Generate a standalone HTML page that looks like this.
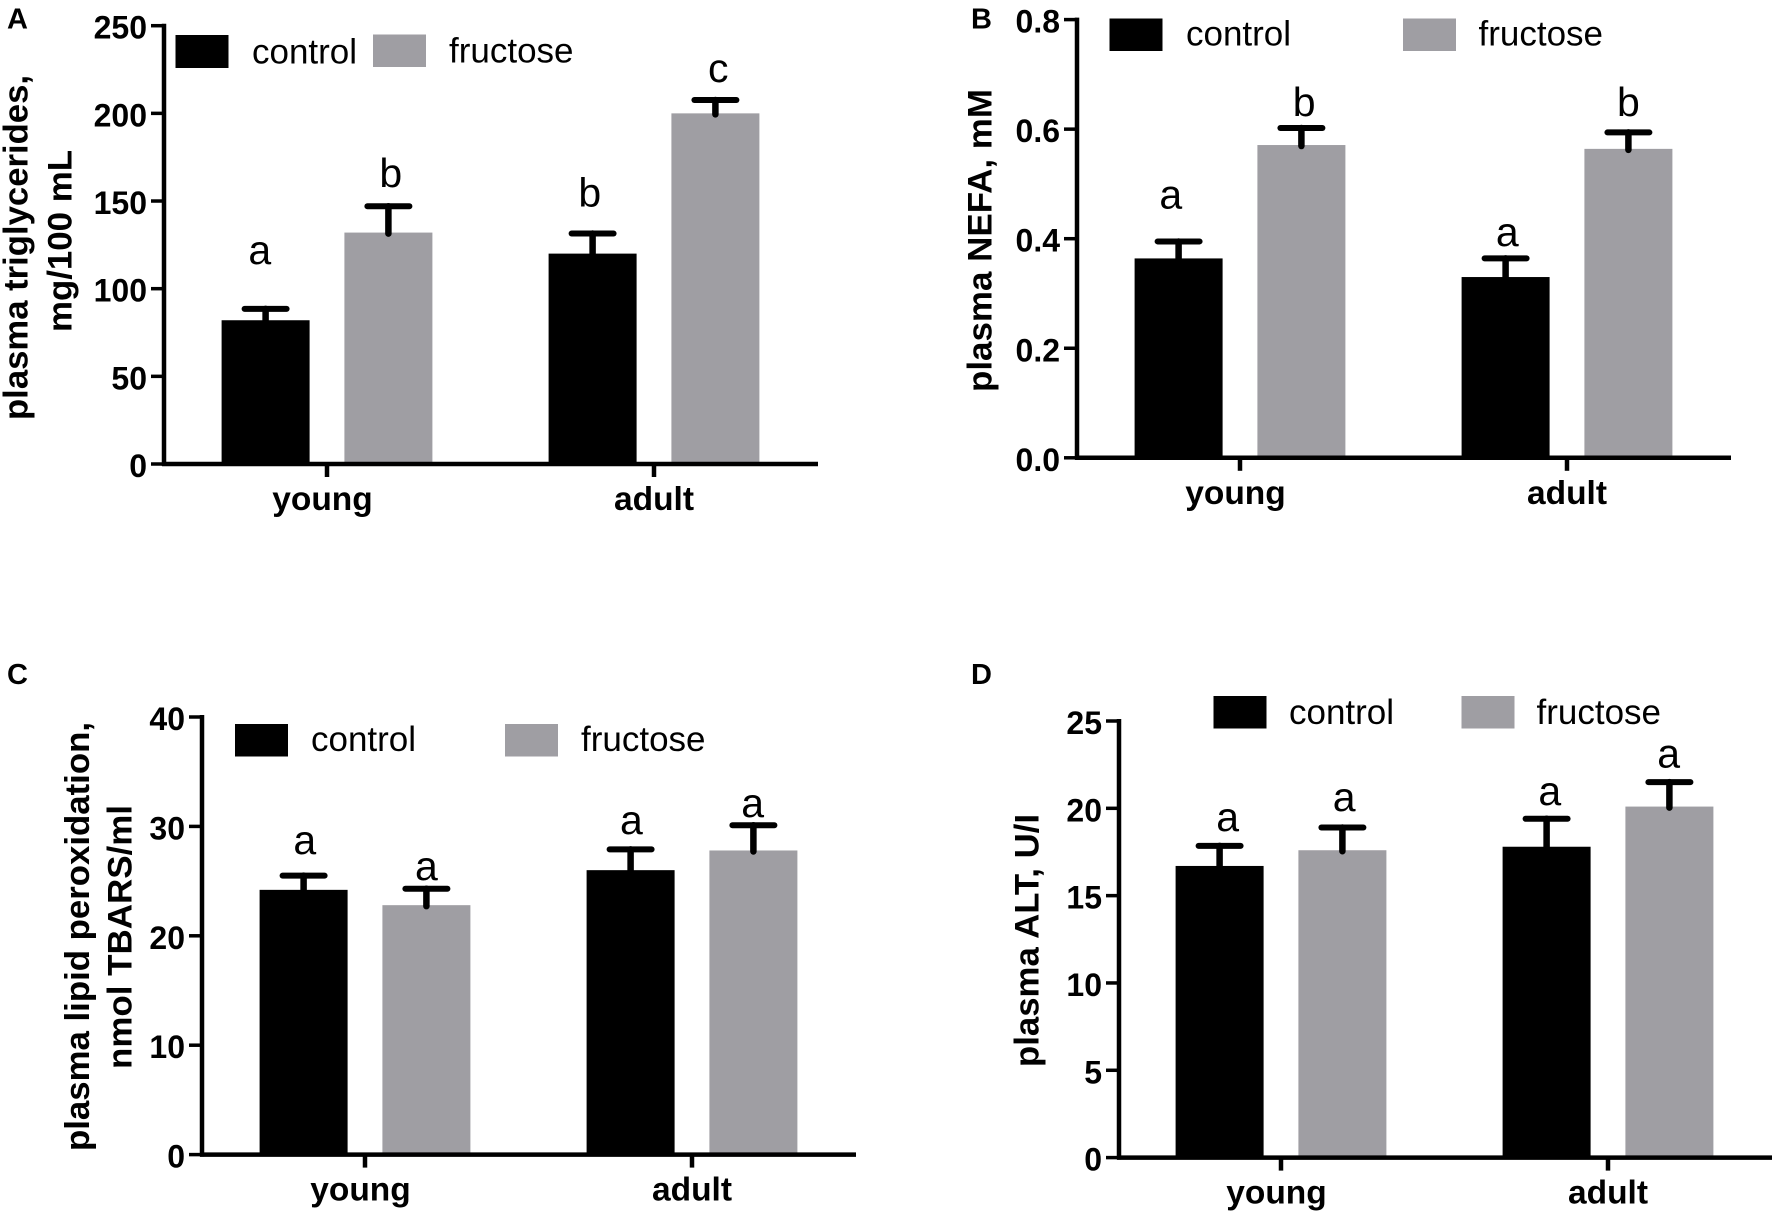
<!DOCTYPE html>
<html lang="en">
<head>
<meta charset="utf-8">
<title>Plasma markers in young and adult rats</title>
<style>
html,body{margin:0;padding:0;background:#fff;}
#figure{display:block;width:1772px;height:1216px;font-family:"Liberation Sans",Arial,sans-serif;}
.panel-letter{font-size:29px;font-weight:bold;fill:#000;}
.y-title{font-size:34.7px;font-weight:bold;fill:#000;}
.legend-label{font-size:35px;fill:#000;}
.tick-label{font-size:32px;font-weight:bold;fill:#000;text-anchor:end;}
.category-label{font-size:33.5px;font-weight:bold;fill:#000;text-anchor:middle;}
.sig-letter{font-size:41px;fill:#000;text-anchor:middle;}
</style>
</head>
<body>
<svg id="figure" xmlns="http://www.w3.org/2000/svg" width="1772" height="1216" viewBox="0 0 1772 1216">
  <rect x="0" y="0" width="1772" height="1216" fill="#fff"/>

  <!-- Panel A static labels -->
  <g id="panel-a">
    <text class="panel-letter" x="7" y="28.3">A</text>
    <text class="y-title" transform="translate(27.5,420) rotate(-90)" textLength="345" lengthAdjust="spacingAndGlyphs">plasma triglycerides,</text>
    <text class="y-title" transform="translate(71.5,332) rotate(-90)" textLength="182" lengthAdjust="spacingAndGlyphs">mg/100 mL</text>
    <rect x="175.5" y="35" width="53" height="33" fill="#000"/>
    <text class="legend-label" x="252" y="63.3">control</text>
    <rect x="373" y="34.5" width="53" height="32.5" fill="#9f9ea3"/>
    <text class="legend-label" x="449" y="62.5">fructose</text>
  </g>

  <!-- Panel B static labels -->
  <g id="panel-b">
    <text class="panel-letter" x="971" y="28.3">B</text>
    <text class="y-title" transform="translate(991.5,392) rotate(-90)" textLength="303" lengthAdjust="spacingAndGlyphs">plasma NEFA, mM</text>
    <rect x="1109.5" y="18.5" width="53" height="32.5" fill="#000"/>
    <text class="legend-label" x="1186" y="45.7">control</text>
    <rect x="1403" y="18.5" width="53" height="32.5" fill="#9f9ea3"/>
    <text class="legend-label" x="1478.5" y="45.7">fructose</text>
  </g>

  <!-- Panel C static labels -->
  <g id="panel-c">
    <text class="panel-letter" x="7" y="684">C</text>
    <text class="y-title" transform="translate(89,1151) rotate(-90)" textLength="429" lengthAdjust="spacingAndGlyphs">plasma lipid peroxidation,</text>
    <text class="y-title" transform="translate(131.5,1069) rotate(-90)" textLength="264" lengthAdjust="spacingAndGlyphs">nmol TBARS/ml</text>
    <rect x="235" y="724" width="53" height="32.5" fill="#000"/>
    <text class="legend-label" x="311" y="751">control</text>
    <rect x="505" y="724" width="53" height="32.5" fill="#9f9ea3"/>
    <text class="legend-label" x="581" y="751">fructose</text>
  </g>

  <!-- Panel D static labels -->
  <g id="panel-d">
    <text class="panel-letter" x="971" y="684">D</text>
    <text class="y-title" transform="translate(1038.5,1067) rotate(-90)" textLength="253" lengthAdjust="spacingAndGlyphs">plasma ALT, U/I</text>
    <rect x="1213.5" y="696" width="53" height="32.5" fill="#000"/>
    <text class="legend-label" x="1289" y="724">control</text>
    <rect x="1461.5" y="696" width="53" height="32.5" fill="#9f9ea3"/>
    <text class="legend-label" x="1536.5" y="724">fructose</text>
  </g>
</svg>

<script>
// ---- Data ----
const categories = ['young', 'adult'];

const aControl = [82, 120];
const aFructose = [132, 200];
const aControlSem = [6.5, 11.5];
const aFructoseSem = [15, 7.6];
const aLetters = ['a', 'b', 'b', 'c'];
const aLetterLift = [25.7, 11, 15.5, 10.4];
const aTicks = [0, 50, 100, 150, 200, 250];
const aTickLabels = ['0', '50', '100', '150', '200', '250'];

const bControl = [0.364, 0.33];
const bFructose = [0.571, 0.564];
const bControlSem = [0.031, 0.034];
const bFructoseSem = [0.031, 0.03];
const bLetters = ['a', 'b', 'a', 'b'];
const bLetterLift = [0.06, 0.022, 0.0225, 0.03];
const bTicks = [0, 0.2, 0.4, 0.6, 0.8];
const bTickLabels = ['0.0', '0.2', '0.4', '0.6', '0.8'];

const cControl = [24.2, 26.0];
const cFructose = [22.8, 27.8];
const cControlSem = [1.3, 1.9];
const cFructoseSem = [1.5, 2.3];
const cLetters = ['a', 'a', 'a', 'a'];
const cLetterLift = [1.96, 0.8, 1.4, 0.75];
const cTicks = [0, 10, 20, 30, 40];
const cTickLabels = ['0', '10', '20', '30', '40'];

const dControl = [16.7, 17.8];
const dFructose = [17.6, 20.1];
const dControlSem = [1.15, 1.6];
const dFructoseSem = [1.3, 1.4];
const dLetters = ['a', 'a', 'a', 'a'];
const dLetterLift = [0.85, 0.94, 0.8, 0.83];
const dTicks = [0, 5, 10, 15, 20, 25];
const dTickLabels = ['0', '5', '10', '15', '20', '25'];

// ---- Drawing ----
const NS = 'http://www.w3.org/2000/svg';
const GRAY = '#9f9ea3';
const GROUP_STEP = 327;
const BAR_OFFSET = 61.4;
const BAR_WIDTH = 88;
const CAP_HALF = 21;

function make(parent, tag, attrs, text) {
  const el = document.createElementNS(NS, tag);
  Object.keys(attrs).forEach(function (k) { el.setAttribute(k, attrs[k]); });
  if (text !== undefined) el.textContent = text;
  parent.appendChild(el);
  return el;
}

function drawPanel(id, frame, control, fructose, controlSem, fructoseSem, letters, letterLift, ticks, tickLabels) {
  const root = document.getElementById('panel-' + id);
  const yMax = ticks[ticks.length - 1];
  const yScale = function (v) { return frame.bottom - (v / yMax) * (frame.bottom - frame.top); };
  const xScale = function (i) { return frame.firstTick + i * GROUP_STEP; };
  const series = [
    { key: 'control', values: control, sem: controlSem, fill: '#000', side: -1 },
    { key: 'fructose', values: fructose, sem: fructoseSem, fill: GRAY, side: 1 }
  ];

  // bars, error bars and significance letters
  categories.forEach(function (cat, i) {
    series.forEach(function (s, si) {
      const cx = xScale(i) + s.side * BAR_OFFSET;
      const top = yScale(s.values[i]);
      const errTop = yScale(s.values[i] + s.sem[i]);

      const bar = make(root, 'rect', { x: cx - BAR_WIDTH / 2, y: top, width: BAR_WIDTH, height: frame.bottom - top, fill: s.fill });
      
      

      const stem = make(root, 'line', { x1: cx, x2: cx, y1: top + 1, y2: errTop, stroke: '#000', 'stroke-width': 6.5, 'stroke-linecap': 'round' });
      
      

      const cap = make(root, 'line', { x1: cx - CAP_HALF, x2: cx + CAP_HALF, y1: errTop, y2: errTop, stroke: '#000', 'stroke-width': 6, 'stroke-linecap': 'round' });
      
      

      const li = i * 2 + si;
      const letter = make(root, 'text', { class: 'sig-letter', x: cx + frame.letterNudge[li], y: yScale(s.values[i] + s.sem[i] + letterLift[li]) }, letters[li]);
      
      
    });
  });

  // y axis
  const yAxis = make(root, 'line', { x1: frame.axisX, x2: frame.axisX, y1: frame.top - 2, y2: frame.bottom + 2, stroke: '#000', 'stroke-width': 4.5 });
  
  

  ticks.forEach(function (t, i) {
    const y = yScale(t);
    const tick = make(root, 'line', { x1: frame.axisX - 13, x2: frame.axisX, y1: y, y2: y, stroke: '#000', 'stroke-width': 3.5 });
    
    

    const label = make(root, 'text', { class: 'tick-label', x: frame.axisX - 17, y: y + 13 }, tickLabels[i]);
    
    
  });

  // x axis
  const xAxis = make(root, 'line', { x1: frame.axisX - 2, x2: frame.right, y1: frame.bottom, y2: frame.bottom, stroke: '#000', 'stroke-width': 4.5 });
  
  

  categories.forEach(function (cat, i) {
    const x = xScale(i);
    const tick = make(root, 'line', { x1: x, x2: x, y1: frame.bottom, y2: frame.bottom + 13, stroke: '#000', 'stroke-width': 4.5 });
    
    

    const label = make(root, 'text', { class: 'category-label', x: x + (i === 0 ? -4.5 : 0), y: frame.bottom + 46 }, cat);
    
    
  });
}

drawPanel('a', { axisX: 164, top: 25.7, bottom: 464, right: 818, firstTick: 327, letterNudge: [-5.8, 2.4, -2.8, 2.8] }, aControl, aFructose, aControlSem, aFructoseSem, aLetters, aLetterLift, aTicks, aTickLabels);
drawPanel('b', { axisX: 1077, top: 19.6, bottom: 457.8, right: 1731, firstTick: 1240, letterNudge: [-7.8, 2.8, 1.7, 0] }, bControl, bFructose, bControlSem, bFructoseSem, bLetters, bLetterLift, bTicks, bTickLabels);
drawPanel('c', { axisX: 202, top: 717, bottom: 1154.6, right: 856, firstTick: 365, letterNudge: [1.2, 0, 0.8, -0.7] }, cControl, cFructose, cControlSem, cFructoseSem, cLetters, cLetterLift, cTicks, cTickLabels);
drawPanel('d', { axisX: 1119, top: 721, bottom: 1157.6, right: 1772, firstTick: 1281, letterNudge: [8, 1.8, 3.2, -0.7] }, dControl, dFructose, dControlSem, dFructoseSem, dLetters, dLetterLift, dTicks, dTickLabels);
</script>
</body>
</html>
